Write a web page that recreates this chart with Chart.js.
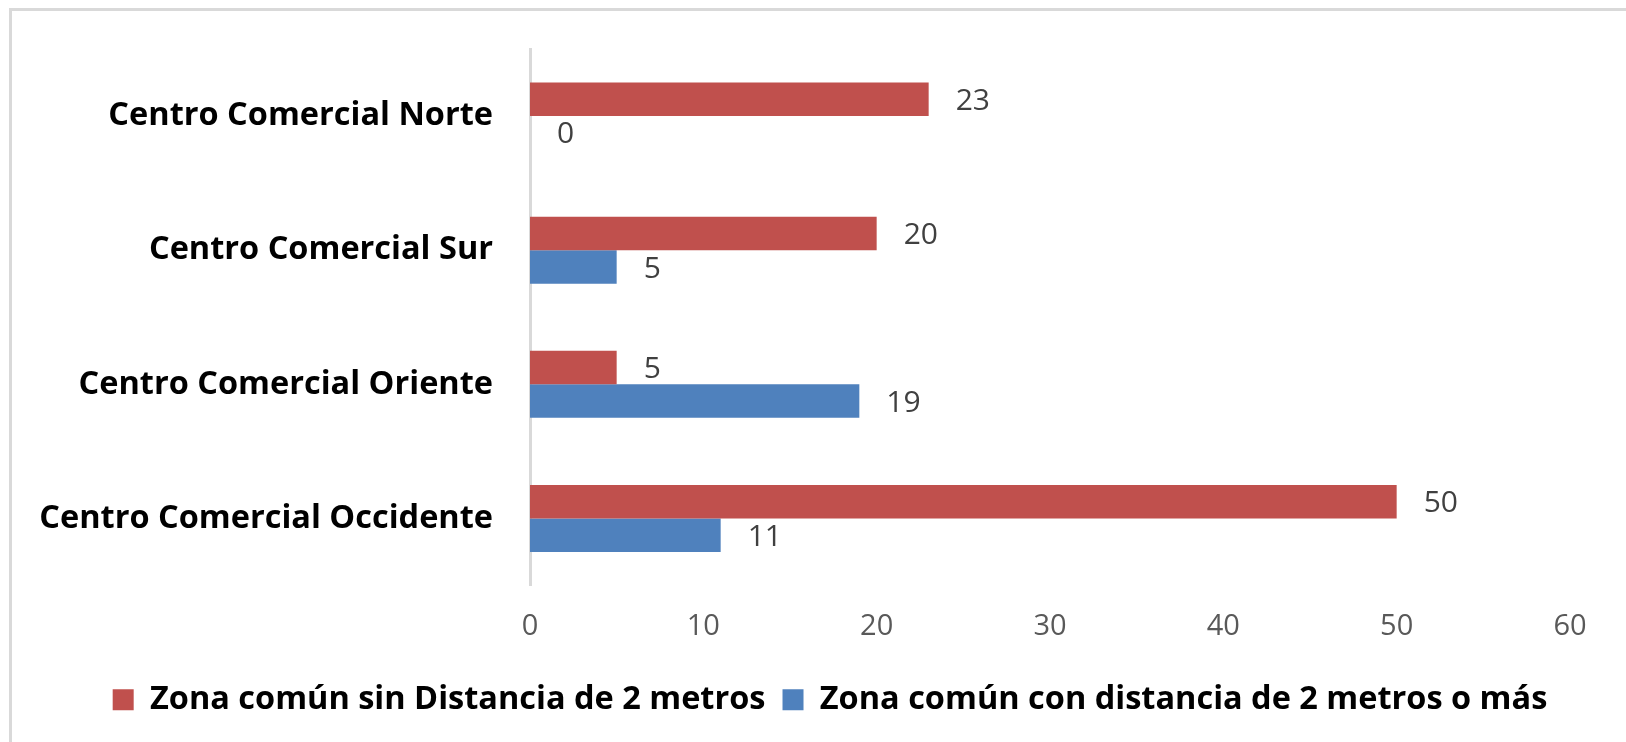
<!DOCTYPE html>
<html lang="es">
<head>
    <meta charset="UTF-8">
    <title>Zonas comunes por centro comercial</title>
    <script src="https://cdn.jsdelivr.net/npm/chart.js"></script>
    <style>
        html, body {
            margin: 0;
            padding: 0;
            background: #fff;
            overflow: hidden;
        }
        .frame {
            position: absolute;
            left: 9px;
            top: 8px;
            width: 1700px;
            height: 800px;
            border: 3px solid #d9d9d9;
        }
        .chart-container {
            position: absolute;
            left: 0;
            top: 0;
            width: 1626px;
            height: 742px;
        }
    </style>
</head>
<body>

<div class="frame"></div>
<div class="chart-container">
    <canvas id="myChart" width="1626" height="742"></canvas>
</div>

<script>
    const categories = ['Centro Comercial Norte', 'Centro Comercial Sur', 'Centro Comercial Oriente', 'Centro Comercial Occidente'];
    const sinDistancia = [23, 20, 5, 50];
    const conDistancia = [0, 5, 19, 11];
    const seriesNames = ['Zona común sin Distancia de 2 metros', 'Zona común con distancia de 2 metros o más'];
    const xTicks = [0, 10, 20, 30, 40, 50, 60];

    const FONT = "'Open Sans', sans-serif";

    // valores al final de cada barra
    const valueLabels = {
        id: 'valueLabels',
        afterDatasetsDraw(chart) {
            const ctx = chart.ctx;
            ctx.save();
            ctx.font = '30px ' + FONT;
            ctx.fillStyle = '#404040';
            ctx.textAlign = 'left';
            ctx.textBaseline = 'middle';
            chart.data.datasets.forEach((ds, i) => {
                chart.getDatasetMeta(i).data.forEach((bar, j) => {
                    ctx.fillText(ds.data[j], bar.x + 27, bar.y + 2);
                });
            });
            ctx.restore();
        }
    };

    // la leyenda va un poco a la derecha del centro
    const shiftLegend = {
        id: 'shiftLegend',
        afterLayout(chart) {
            chart.legend.left += 45;
            chart.legend.right += 45;
        }
    };

    const config = {
        type: 'bar',
        data: {
            labels: categories,
            datasets: [{
                label: seriesNames[0],
                data: sinDistancia,
                backgroundColor: '#C0504D',
                categoryPercentage: 0.5,
                barPercentage: 1.0
            }, {
                label: seriesNames[1],
                data: conDistancia,
                backgroundColor: '#4F81BD',
                categoryPercentage: 0.5,
                barPercentage: 1.0
            }]
        },
        options: {
            indexAxis: 'y',
            responsive: false,
            animation: false,
            layout: {
                padding: { top: 49, right: 56, left: 0, bottom: 16 }
            },
            scales: {
                x: {
                    min: 0,
                    max: 60,
                    afterBuildTicks: (scale) => {
                        scale.ticks = xTicks.map(v => ({ value: v }));
                    },
                    afterFit: (scale) => { scale.height = 81; },
                    grid: { display: false, drawTicks: false },
                    border: { display: false },
                    ticks: {
                        color: '#595959',
                        font: { family: FONT, size: 29 },
                        padding: 24
                    }
                },
                y: {
                    afterFit: (scale) => {
                        scale.width = 530;
                        scale.paddingTop = 0;
                        scale.paddingBottom = 0;
                    },
                    grid: { display: false, drawTicks: false },
                    border: { display: true, color: '#d9d9d9', width: 3 },
                    ticks: {
                        color: '#000',
                        font: { family: FONT, size: 32.5, weight: 'bold' },
                        padding: 37
                    }
                }
            },
            plugins: {
                legend: {
                    display: true,
                    position: 'bottom',
                    labels: {
                        color: '#000',
                        font: { family: FONT, size: 32.5, weight: 'bold' },
                        boxWidth: 21,
                        boxHeight: 21,
                        padding: 17
                    }
                },
                tooltip: { enabled: false }
            }
        },
        plugins: [valueLabels, shiftLegend]
    };

    const ctx = document.getElementById('myChart').getContext('2d');
    new Chart(ctx, config);
</script>

</body>
</html>
